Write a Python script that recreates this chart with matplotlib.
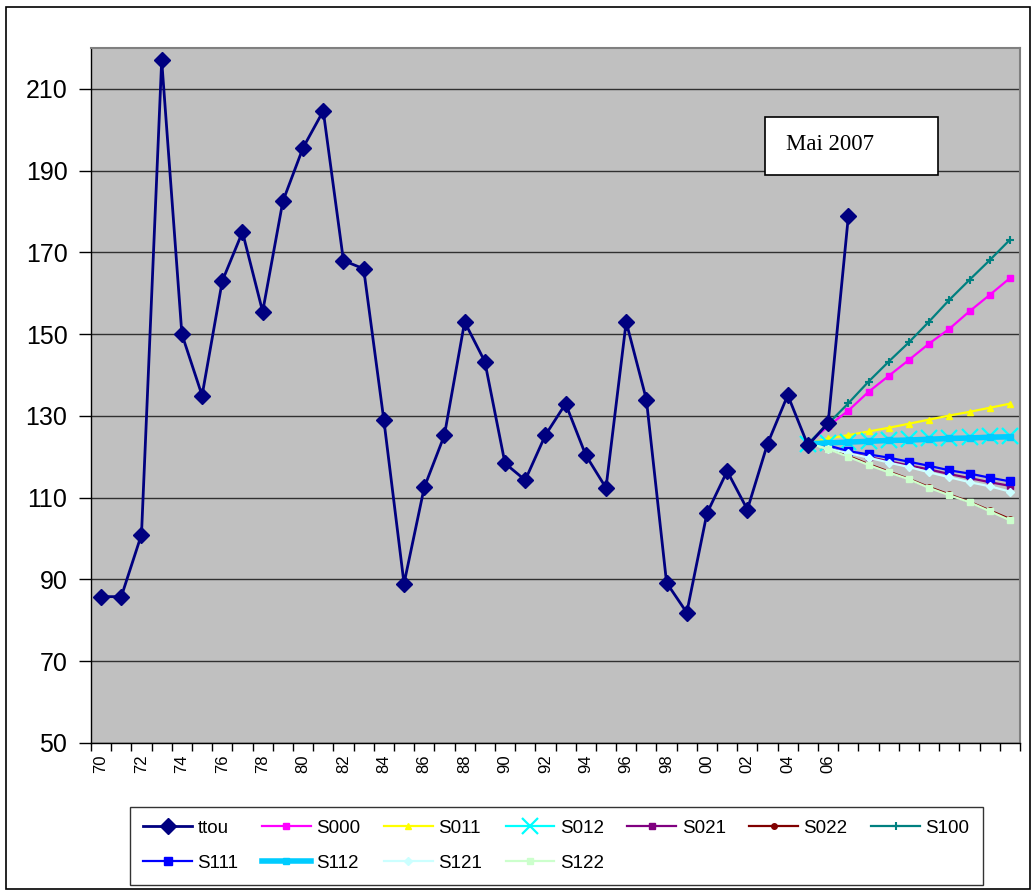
import numpy as np
import matplotlib
matplotlib.use("Agg")
import matplotlib.pyplot as plt
import matplotlib.patches

plt.rcParams['font.family'] = ['Liberation Sans', 'DejaVu Sans']

# annees 1970 .. 2015, une categorie par annee
years = list(range(1970, 2016))
tick_labels = ['%02d' % (y % 100) for y in range(1970, 2007, 2)]

# serie observee 1970 .. 2007
ttou = [85.8, 85.8, 101.0, 217.0, 150.0, 135.0, 163.0, 175.0, 155.5, 182.5,
        195.6, 204.6, 168.0, 166.0, 129.0, 89.0, 112.5, 125.3, 153.0, 143.3,
        118.4, 114.3, 125.3, 133.0, 120.4, 112.4, 153.0, 134.0, 89.2, 81.9,
        106.2, 116.5, 107.1, 123.2, 135.1, 122.8, 128.3, 178.8]

# scenarios 2005 .. 2015
S000 = [123.2, 127.5, 131.3, 135.9, 139.8, 143.7, 147.7, 151.3, 155.6, 159.6, 163.7]
S011 = [123.2, 124.5, 125.3, 126.2, 127.1, 128.1, 129.1, 130.1, 131.0, 132.0, 133.0]
S012 = [123.2, 123.5, 123.7, 123.9, 124.1, 124.3, 124.5, 124.6, 124.8, 125.0, 125.1]
S021 = [123.2, 122.1, 121.0, 120.0, 118.9, 117.9, 116.9, 115.8, 114.8, 113.8, 112.9]
S022 = [123.2, 122.0, 120.2, 118.2, 116.4, 114.6, 112.6, 110.8, 109.0, 106.9, 104.8]
S100 = [123.2, 128.1, 133.1, 138.4, 143.3, 148.0, 153.1, 158.4, 163.3, 168.1, 173.1]
S111 = [123.2, 122.8, 121.4, 120.6, 119.8, 118.8, 117.8, 116.7, 115.9, 114.9, 114.0]
S112 = [123.2, 123.4, 123.6, 123.8, 124.0, 124.1, 124.3, 124.5, 124.6, 124.8, 124.9]
S121 = [123.2, 122.0, 120.9, 119.8, 118.6, 117.5, 116.2, 115.0, 113.8, 112.8, 111.5]
S122 = [123.2, 121.9, 120.0, 118.0, 116.2, 114.5, 112.4, 110.6, 108.9, 106.7, 104.5]

fig = plt.figure(figsize=(10.34, 8.9), dpi=100)
ax = fig.add_axes([91 / 1034, 1 - 743 / 890, (1020 - 91) / 1034, (743 - 48) / 890])
ax.set_facecolor('#c0c0c0')

x_obs = np.arange(len(ttou))
x_proj = np.arange(35, 35 + len(S000))

series = [
    ('S000', S000, dict(color='#ff00ff', marker='s', ms=5, lw=1.6)),
    ('S011', S011, dict(color='#ffff00', marker='^', ms=5, lw=1.6)),
    ('S012', S012, dict(color='#00ffff', marker='x', ms=11, mew=1.6, lw=1.6)),
    ('S021', S021, dict(color='#800080', marker='s', ms=4, lw=1.6)),
    ('S022', S022, dict(color='#800000', marker='o', ms=4, lw=1.6)),
    ('S100', S100, dict(color='#008080', marker='+', ms=6, mew=1.5, lw=1.6)),
    ('S111', S111, dict(color='#0000ff', marker='s', ms=6, lw=1.6)),
    ('S112', S112, dict(color='#00ccff', marker='s', ms=5, lw=4)),
    ('S121', S121, dict(color='#ccffff', marker='D', ms=4, lw=1.6)),
    ('S122', S122, dict(color='#ccffcc', marker='s', ms=4, lw=1.6)),
]

handles = {}
for name, vals, style in series:
    h, = ax.plot(x_proj, vals, label=name, zorder=3, **style)
    handles[name] = h
h, = ax.plot(x_obs, ttou, color='#000080', marker='D', ms=8.5, lw=2, label='ttou', zorder=4)
handles['ttou'] = h

ax.set_xlim(-0.5, len(years) - 0.5)
ax.set_ylim(50, 220)
ax.set_yticks(range(50, 211, 20))
ax.grid(axis='y', color='#303030', lw=1)
ax.set_axisbelow(True)

ax.set_xticks(np.arange(0, 37, 2))
ax.set_xticklabels(tick_labels, rotation=90, fontsize=12)
ax.set_xticks(np.arange(-0.5, len(years), 1), minor=True)
ax.tick_params(axis='x', which='major', length=0, pad=8)
ax.tick_params(axis='x', which='minor', length=6, width=1, color='black')
ax.tick_params(axis='y', labelsize=18, length=9, width=1, pad=8, direction='out')

for side in ['top', 'right']:
    ax.spines[side].set_color('#808080')
    ax.spines[side].set_linewidth(1.5)
for side in ['left', 'bottom']:
    ax.spines[side].set_color('black')
    ax.spines[side].set_linewidth(1)

# encadre "Mai 2007"
box = matplotlib.patches.Rectangle((765 / 1034, 1 - 175 / 890), 173 / 1034, 58 / 890,
                                   transform=fig.transFigure, facecolor='white',
                                   edgecolor='black', lw=1.2, zorder=5)
fig.patches.append(box)
fig.text(786 / 1034, 1 - 144 / 890, 'Mai 2007', family='Liberation Serif', fontsize=16.5,
         va='center', ha='left', zorder=6)

# legende sur deux lignes (remplissage par colonnes)
order = ['ttou', 'S111', 'S000', 'S112', 'S011', 'S121', 'S012', 'S122', 'S021', 'S022', 'S100']
leg = fig.legend([handles[n] for n in order], order, loc='lower left', ncol=7,
                 bbox_to_anchor=(130 / 1034, 5 / 890), fontsize=13.5, frameon=True,
                 fancybox=False, edgecolor='black', handlelength=2.6, handletextpad=0.3,
                 columnspacing=1.25, labelspacing=0.95, borderpad=0.7, borderaxespad=0)
leg.get_frame().set_linewidth(1)

# cadre exterieur
border = matplotlib.patches.Rectangle((6 / 1034, 1 / 890), 1024 / 1034, 882 / 890,
                                      transform=fig.transFigure, fill=False,
                                      edgecolor='black', lw=1.2)
fig.patches.append(border)

fig.savefig('out.png', dpi=100)
